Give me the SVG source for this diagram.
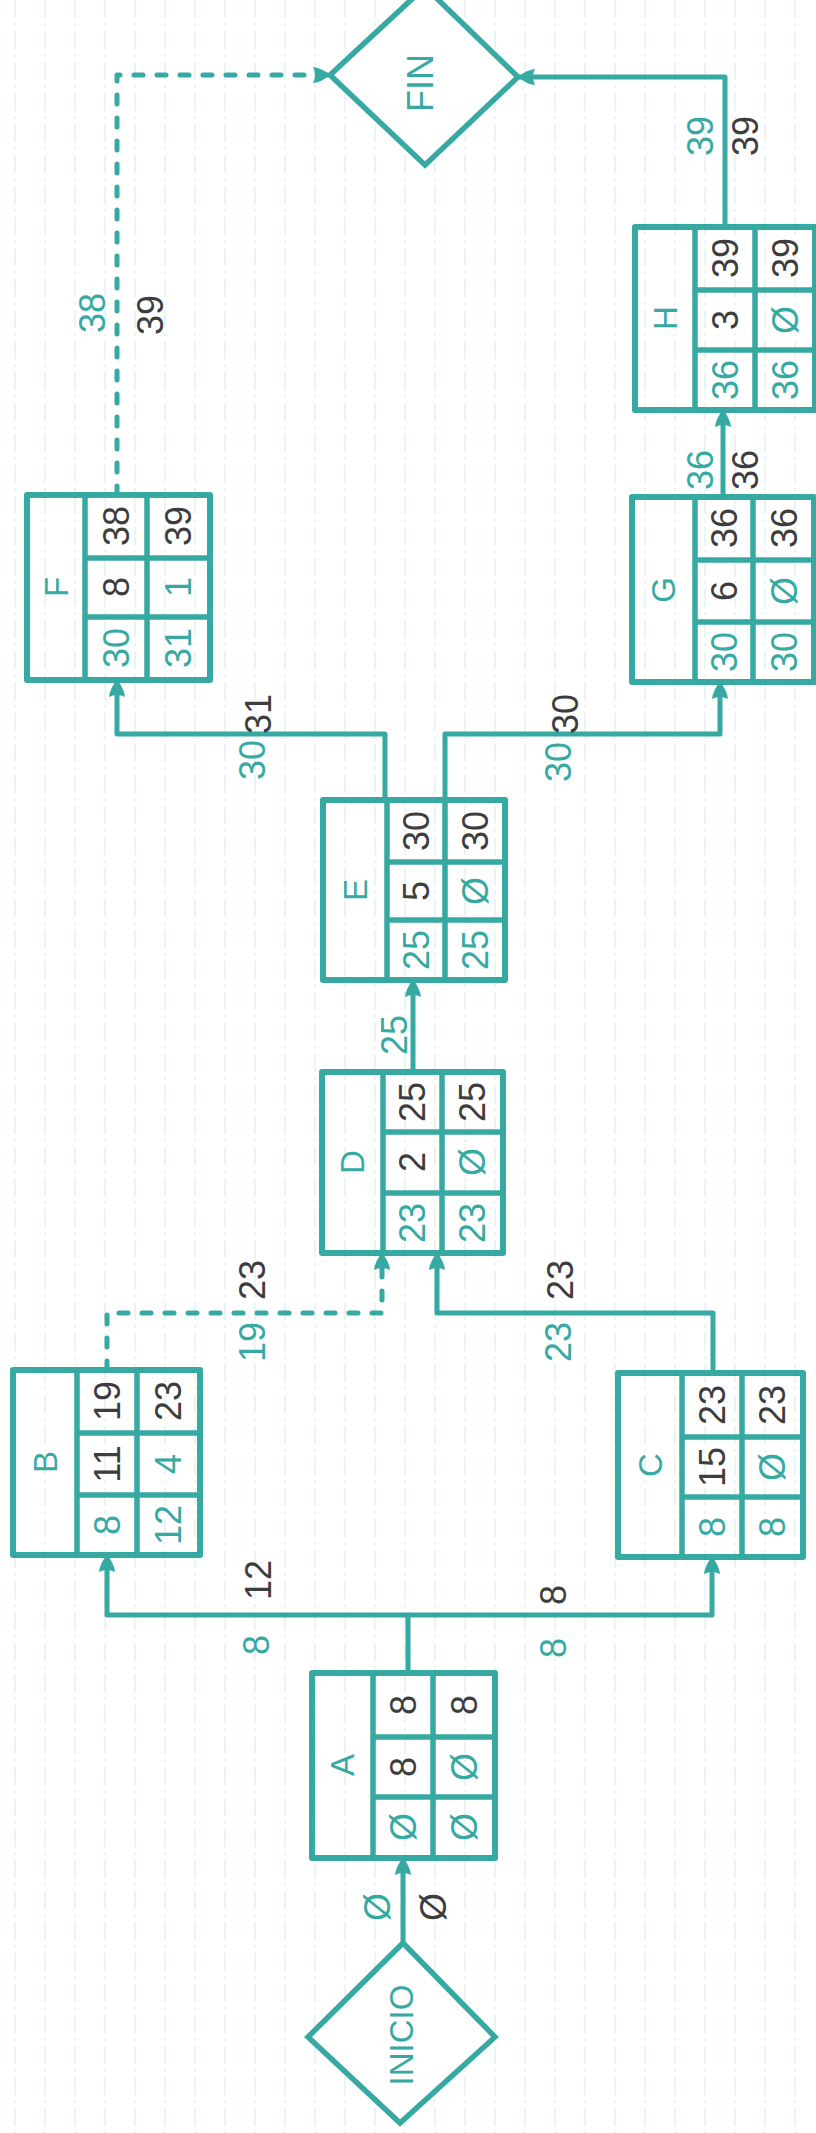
<svg xmlns="http://www.w3.org/2000/svg" width="816" height="2133" viewBox="0 0 816 2133">
<defs>
<style>
.bg{fill:#ffffff}
.rule{stroke:#d9eeec;stroke-width:1.2;stroke-dasharray:18 5 3 5}
.box{fill:none;stroke:#37a9a3;stroke-width:6;stroke-linejoin:round}
.grid{stroke:#37a9a3;stroke-width:5.5}
.dia{fill:#ffffff;stroke:#37a9a3;stroke-width:5.5;stroke-linejoin:miter}
.con{fill:none;stroke:#37a9a3;stroke-width:5;stroke-linejoin:round}
.dash{stroke-dasharray:9 14;stroke-linecap:round}
text{font-family:"Liberation Sans",Arial,sans-serif;text-anchor:middle;dominant-baseline:central}
.t{fill:#37a9a3}
.d{fill:#3d3d3d}
.n{font-size:36px}
.nm{font-size:33px;fill:#37a9a3}
</style>
<marker id="arr" viewBox="0 0 20 20" refX="18" refY="10" markerWidth="20" markerHeight="22" markerUnits="userSpaceOnUse" orient="auto">
<path d="M1,2 Q10,3 18,10 Q10,17 1,18 Q5,10 1,2 Z" fill="#37a9a3"/>
</marker>
</defs>
<rect class="bg" x="0" y="0" width="816" height="2133"/>
<g id="paper-rules">
<line class="rule" x1="15" y1="0" x2="15" y2="2133"/>
<line class="rule" x1="45" y1="0" x2="45" y2="2133"/>
<line class="rule" x1="75" y1="0" x2="75" y2="2133"/>
<line class="rule" x1="105" y1="0" x2="105" y2="2133"/>
<line class="rule" x1="135" y1="0" x2="135" y2="2133"/>
<line class="rule" x1="165" y1="0" x2="165" y2="2133"/>
<line class="rule" x1="195" y1="0" x2="195" y2="2133"/>
<line class="rule" x1="225" y1="0" x2="225" y2="2133"/>
<line class="rule" x1="255" y1="0" x2="255" y2="2133"/>
<line class="rule" x1="285" y1="0" x2="285" y2="2133"/>
<line class="rule" x1="315" y1="0" x2="315" y2="2133"/>
<line class="rule" x1="345" y1="0" x2="345" y2="2133"/>
<line class="rule" x1="375" y1="0" x2="375" y2="2133"/>
<line class="rule" x1="405" y1="0" x2="405" y2="2133"/>
<line class="rule" x1="435" y1="0" x2="435" y2="2133"/>
<line class="rule" x1="465" y1="0" x2="465" y2="2133"/>
<line class="rule" x1="495" y1="0" x2="495" y2="2133"/>
<line class="rule" x1="525" y1="0" x2="525" y2="2133"/>
<line class="rule" x1="555" y1="0" x2="555" y2="2133"/>
<line class="rule" x1="585" y1="0" x2="585" y2="2133"/>
<line class="rule" x1="615" y1="0" x2="615" y2="2133"/>
<line class="rule" x1="645" y1="0" x2="645" y2="2133"/>
<line class="rule" x1="675" y1="0" x2="675" y2="2133"/>
<line class="rule" x1="705" y1="0" x2="705" y2="2133"/>
<line class="rule" x1="735" y1="0" x2="735" y2="2133"/>
<line class="rule" x1="765" y1="0" x2="765" y2="2133"/>
<line class="rule" x1="795" y1="0" x2="795" y2="2133"/>
</g>
<g id="connectors">
<path class="con" d="M403,1943 V1858" marker-end="url(#arr)"/>
<path class="con" d="M408,1673 V1615 H107 V1555" marker-end="url(#arr)"/>
<path class="con" d="M408,1615 H712 V1557" marker-end="url(#arr)"/>
<path class="con dash" d="M107,1370 V1313 H382 V1253" marker-end="url(#arr)"/>
<path class="con" d="M713,1373 V1313 H437 V1253" marker-end="url(#arr)"/>
<path class="con" d="M413,1072 V980" marker-end="url(#arr)"/>
<path class="con" d="M385,800 V734 H117 V680" marker-end="url(#arr)"/>
<path class="con" d="M445,800 V734 H720 V682" marker-end="url(#arr)"/>
<path class="con" d="M723,497 V410" marker-end="url(#arr)"/>
<path class="con" d="M725,227 V77 H518" marker-end="url(#arr)"/>
<path class="con dash" d="M117,495 V75 H330" marker-end="url(#arr)"/>
<text class="n t" transform="translate(377,1907) rotate(-90)">Ø</text>
<text class="n d" transform="translate(433,1907) rotate(-90)">Ø</text>
<text class="n d" transform="translate(258,1580) rotate(-90)">12</text>
<text class="n t" transform="translate(256,1645) rotate(-90)">8</text>
<text class="n d" transform="translate(553,1595) rotate(-90)">8</text>
<text class="n t" transform="translate(553,1648) rotate(-90)">8</text>
<text class="n d" transform="translate(252,1280) rotate(-90)">23</text>
<text class="n t" transform="translate(252,1342) rotate(-90)">19</text>
<text class="n d" transform="translate(560,1280) rotate(-90)">23</text>
<text class="n t" transform="translate(558,1342) rotate(-90)">23</text>
<text class="n t" transform="translate(394,1035) rotate(-90)">25</text>
<text class="n d" transform="translate(258,714) rotate(-90)">31</text>
<text class="n t" transform="translate(252,760) rotate(-90)">30</text>
<text class="n d" transform="translate(565,714) rotate(-90)">30</text>
<text class="n t" transform="translate(558,762) rotate(-90)">30</text>
<text class="n t" transform="translate(700,470) rotate(-90)">36</text>
<text class="n d" transform="translate(745,470) rotate(-90)">36</text>
<text class="n t" transform="translate(700,136) rotate(-90)">39</text>
<text class="n d" transform="translate(745,136) rotate(-90)">39</text>
<text class="n t" transform="translate(92,313) rotate(-90)">38</text>
<text class="n d" transform="translate(150,315) rotate(-90)">39</text>
</g>
<g id="inicio">
<polygon class="dia" points="403,1943 495,2037 400,2123 308,2037"/>
<text class="nm" transform="translate(401,2035) rotate(-90)">INICIO</text>
</g>
<g id="fin">
<polygon class="dia" points="425,-13 518,77 425,165 330,75"/>
<text class="nm" style="font-size:36px" transform="translate(420,83) rotate(-90)">FIN</text>
</g>
<g id="node-A">
<rect class="box" x="312" y="1673" width="183" height="185"/>
<line class="grid" x1="373" y1="1673" x2="373" y2="1858"/>
<line class="grid" x1="433" y1="1673" x2="433" y2="1858"/>
<line class="grid" x1="373" y1="1737" x2="495" y2="1737"/>
<line class="grid" x1="373" y1="1797" x2="495" y2="1797"/>
<text class="nm" transform="translate(342,1765) rotate(-90)">A</text>
<text class="n d" transform="translate(403,1705) rotate(-90)">8</text>
<text class="n d" transform="translate(403,1767) rotate(-90)">8</text>
<text class="n t" transform="translate(403,1827) rotate(-90)">Ø</text>
<text class="n d" transform="translate(464,1705) rotate(-90)">8</text>
<text class="n t" transform="translate(464,1767) rotate(-90)">Ø</text>
<text class="n t" transform="translate(464,1827) rotate(-90)">Ø</text>
</g>
<g id="node-B">
<rect class="box" x="13" y="1370" width="187" height="185"/>
<line class="grid" x1="77" y1="1370" x2="77" y2="1555"/>
<line class="grid" x1="137" y1="1370" x2="137" y2="1555"/>
<line class="grid" x1="77" y1="1433" x2="200" y2="1433"/>
<line class="grid" x1="77" y1="1495" x2="200" y2="1495"/>
<text class="nm" transform="translate(45,1462) rotate(-90)">B</text>
<text class="n d" transform="translate(107,1401) rotate(-90)">19</text>
<text class="n d" transform="translate(107,1464) rotate(-90)">11</text>
<text class="n t" transform="translate(107,1525) rotate(-90)">8</text>
<text class="n d" transform="translate(168,1401) rotate(-90)">23</text>
<text class="n t" transform="translate(168,1464) rotate(-90)">4</text>
<text class="n t" transform="translate(168,1525) rotate(-90)">12</text>
</g>
<g id="node-C">
<rect class="box" x="618" y="1373" width="185" height="184"/>
<line class="grid" x1="682" y1="1373" x2="682" y2="1557"/>
<line class="grid" x1="742" y1="1373" x2="742" y2="1557"/>
<line class="grid" x1="682" y1="1437" x2="803" y2="1437"/>
<line class="grid" x1="682" y1="1497" x2="803" y2="1497"/>
<text class="nm" transform="translate(650,1465) rotate(-90)">C</text>
<text class="n d" transform="translate(712,1405) rotate(-90)">23</text>
<text class="n d" transform="translate(712,1467) rotate(-90)">15</text>
<text class="n t" transform="translate(712,1527) rotate(-90)">8</text>
<text class="n d" transform="translate(772,1405) rotate(-90)">23</text>
<text class="n t" transform="translate(772,1467) rotate(-90)">Ø</text>
<text class="n t" transform="translate(772,1527) rotate(-90)">8</text>
</g>
<g id="node-D">
<rect class="box" x="322" y="1072" width="181" height="181"/>
<line class="grid" x1="383" y1="1072" x2="383" y2="1253"/>
<line class="grid" x1="442" y1="1072" x2="442" y2="1253"/>
<line class="grid" x1="383" y1="1132" x2="503" y2="1132"/>
<line class="grid" x1="383" y1="1193" x2="503" y2="1193"/>
<text class="nm" transform="translate(352,1162) rotate(-90)">D</text>
<text class="n d" transform="translate(412,1102) rotate(-90)">25</text>
<text class="n d" transform="translate(412,1162) rotate(-90)">2</text>
<text class="n t" transform="translate(412,1223) rotate(-90)">23</text>
<text class="n d" transform="translate(472,1102) rotate(-90)">25</text>
<text class="n t" transform="translate(472,1162) rotate(-90)">Ø</text>
<text class="n t" transform="translate(472,1223) rotate(-90)">23</text>
</g>
<g id="node-E">
<rect class="box" x="323" y="800" width="182" height="180"/>
<line class="grid" x1="387" y1="800" x2="387" y2="980"/>
<line class="grid" x1="445" y1="800" x2="445" y2="980"/>
<line class="grid" x1="387" y1="862" x2="505" y2="862"/>
<line class="grid" x1="387" y1="920" x2="505" y2="920"/>
<text class="nm" transform="translate(355,890) rotate(-90)">E</text>
<text class="n d" transform="translate(416,831) rotate(-90)">30</text>
<text class="n d" transform="translate(416,891) rotate(-90)">5</text>
<text class="n t" transform="translate(416,950) rotate(-90)">25</text>
<text class="n d" transform="translate(475,831) rotate(-90)">30</text>
<text class="n t" transform="translate(475,891) rotate(-90)">Ø</text>
<text class="n t" transform="translate(475,950) rotate(-90)">25</text>
</g>
<g id="node-F">
<rect class="box" x="27" y="495" width="183" height="185"/>
<line class="grid" x1="85" y1="495" x2="85" y2="680"/>
<line class="grid" x1="147" y1="495" x2="147" y2="680"/>
<line class="grid" x1="85" y1="558" x2="210" y2="558"/>
<line class="grid" x1="85" y1="617" x2="210" y2="617"/>
<text class="nm" transform="translate(56,587) rotate(-90)">F</text>
<text class="n d" transform="translate(116,526) rotate(-90)">38</text>
<text class="n d" transform="translate(116,587) rotate(-90)">8</text>
<text class="n t" transform="translate(116,648) rotate(-90)">30</text>
<text class="n d" transform="translate(178,526) rotate(-90)">39</text>
<text class="n t" transform="translate(178,587) rotate(-90)">1</text>
<text class="n t" transform="translate(178,648) rotate(-90)">31</text>
</g>
<g id="node-G">
<rect class="box" x="632" y="497" width="182" height="185"/>
<line class="grid" x1="695" y1="497" x2="695" y2="682"/>
<line class="grid" x1="753" y1="497" x2="753" y2="682"/>
<line class="grid" x1="695" y1="560" x2="814" y2="560"/>
<line class="grid" x1="695" y1="622" x2="814" y2="622"/>
<text class="nm" transform="translate(663,590) rotate(-90)">G</text>
<text class="n d" transform="translate(724,528) rotate(-90)">36</text>
<text class="n d" transform="translate(724,591) rotate(-90)">6</text>
<text class="n t" transform="translate(724,652) rotate(-90)">30</text>
<text class="n d" transform="translate(784,528) rotate(-90)">36</text>
<text class="n t" transform="translate(784,591) rotate(-90)">Ø</text>
<text class="n t" transform="translate(784,652) rotate(-90)">30</text>
</g>
<g id="node-H">
<rect class="box" x="635" y="227" width="180" height="183"/>
<line class="grid" x1="695" y1="227" x2="695" y2="410"/>
<line class="grid" x1="755" y1="227" x2="755" y2="410"/>
<line class="grid" x1="695" y1="290" x2="815" y2="290"/>
<line class="grid" x1="695" y1="350" x2="815" y2="350"/>
<text class="nm" transform="translate(665,318) rotate(-90)">H</text>
<text class="n d" transform="translate(725,258) rotate(-90)">39</text>
<text class="n d" transform="translate(725,320) rotate(-90)">3</text>
<text class="n t" transform="translate(725,380) rotate(-90)">36</text>
<text class="n d" transform="translate(785,258) rotate(-90)">39</text>
<text class="n t" transform="translate(785,320) rotate(-90)">Ø</text>
<text class="n t" transform="translate(785,380) rotate(-90)">36</text>
</g>
</svg>
